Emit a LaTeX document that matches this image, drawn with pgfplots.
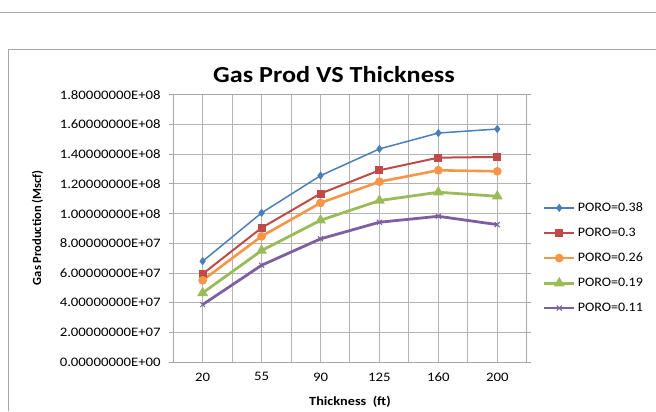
\documentclass[border=0pt]{standalone}
\usepackage{pgfplots}
\pgfplotsset{compat=1.18}
\usepackage{fontspec}
\setmainfont{Carlito}

\definecolor{xlblue}{HTML}{4A7EBB}
\definecolor{xlred}{HTML}{BE4B48}
\definecolor{xlorange}{HTML}{F79646}
\definecolor{xlgreen}{HTML}{9BBB59}
\definecolor{xlpurple}{HTML}{7D60A0}
\definecolor{gridgray}{HTML}{B3B3B3}
\definecolor{framegray}{HTML}{A6A6A6}

\begin{document}
\begin{tikzpicture}[x=1pt,y=1pt]
% page size and chart frame
\path (0,0) rectangle (656,412);
\draw[framegray, line width=0.8pt] (0,400) -- (656,400);
\draw[framegray, line width=0.8pt] (8,0) -- (8,363) -- (656,363);
\node[font=\bfseries\fontsize{23}{26}\selectfont, xscale=1.14] at (334,337) {Gas Prod VS Thickness};

\begin{axis}[
    at={(173pt,49.5pt)}, anchor=south west,
    scale only axis, width=354pt, height=267.5pt,
    xmin=-0.5, xmax=5.5,
    ymin=0, ymax=1.8e8,
    xtick={0,...,5},
    xticklabels={20,55,90,125,160,200},
    minor xtick={-0.5,0.5,...,5.5},
    ytick={0,2e7,4e7,6e7,8e7,1e8,1.2e8,1.4e8,1.6e8,1.8e8},
    yticklabels={0.00000000E+00,2.00000000E+07,4.00000000E+07,6.00000000E+07,8.00000000E+07,
                 1.00000000E+08,1.20000000E+08,1.40000000E+08,1.60000000E+08,1.80000000E+08},
    scaled y ticks=false,
    grid=both,
    major grid style={gridgray, line width=1pt},
    minor grid style={gridgray, line width=1pt},
    axis line style={framegray, line width=1pt},
    x tick style={draw=none},
    minor x tick style={framegray, line width=1pt},
    minor tick length=4pt,
    y tick style={framegray, line width=1pt},
    tick align=outside,
    major tick length=4pt,
    ticklabel style={font=\fontsize{13}{15}\selectfont, xscale=1.14},
    yticklabel style={xshift=-4pt},
    xticklabel style={yshift=-3pt},
    xlabel={Thickness\ \ (ft)},
    every axis x label/.style={at={(axis description cs:0.5,-0.148)}, anchor=center,
        font=\bfseries\fontsize{12.5}{14}\selectfont, xscale=1.14},
    legend style={at={(1.045,0.39)}, anchor=west, draw=none, fill=none,
        font=\fontsize{13}{15}\selectfont, row sep=11pt, inner sep=0pt,
        nodes={xscale=1.08}},
    legend cell align=left,
    legend image code/.code={
        \draw[mark repeat=2,mark phase=2,#1] plot coordinates {(0pt,0pt) (15pt,0pt) (30pt,0pt)};},
    clip=false,
    ]
\addplot[xlblue, line width=1.5pt, mark=diamond*, mark size=3pt] coordinates {
    (0,6.79e7) (1,1.005e8) (2,1.256e8) (3,1.436e8) (4,1.543e8) (5,1.570e8)};
\addlegendentry{PORO=0.38}
\addplot[xlred, line width=2pt, mark=square*, mark size=3pt] coordinates {
    (0,5.94e7) (1,9.04e7) (2,1.135e8) (3,1.292e8) (4,1.377e8) (5,1.382e8)};
\addlegendentry{PORO=0.3}
\addplot[xlorange, line width=2.6pt, mark=*, mark size=3pt] coordinates {
    (0,5.51e7) (1,8.47e7) (2,1.072e8) (3,1.215e8) (4,1.292e8) (5,1.285e8)};
\addlegendentry{PORO=0.26}
\addplot[xlgreen, line width=2.8pt, mark=triangle*, mark size=3.5pt] coordinates {
    (0,4.66e7) (1,7.51e7) (2,9.55e7) (3,1.088e8) (4,1.144e8) (5,1.117e8)};
\addlegendentry{PORO=0.19}
\addplot[xlpurple, line width=2.8pt, mark=x, mark size=3.5pt, mark options={line width=1pt}] coordinates {
    (0,3.87e7) (1,6.52e7) (2,8.30e7) (3,9.42e7) (4,9.82e7) (5,9.26e7)};
\addlegendentry{PORO=0.11}
\end{axis}
\node[rotate=90, font=\bfseries\fontsize{12.5}{14}\selectfont] at (37,184) {Gas Production (Mscf)};
\end{tikzpicture}
\end{document}
